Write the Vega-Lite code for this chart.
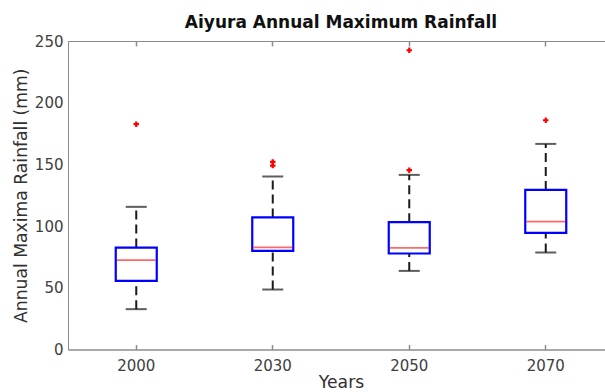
{
  "$schema": "https://vega.github.io/schema/vega-lite/v6.json",
  "width": 546,
  "height": 308.5,
  "autosize": {"type": "none"},
  "padding": {"left": 68, "top": 41, "right": 0, "bottom": 43},
  "title": {
    "text": "Aiyura Annual Maximum Rainfall",
    "font": "DejaVu Sans",
    "fontSize": 17,
    "fontWeight": "bold",
    "color": "#111111",
    "offset": 2
  },
  "config": {
    "view": {"stroke": "#8c8c8c", "strokeWidth": 1},
    "axis": {
      "labelFont": "DejaVu Sans",
      "labelFontSize": 15,
      "labelColor": "#404040",
      "titleFont": "DejaVu Sans",
      "titleFontSize": 17.2,
      "titleFontWeight": "normal",
      "titleColor": "#303030",
      "domainColor": "#8c8c8c",
      "tickColor": "#8c8c8c",
      "tickWidth": 1.5,
      "grid": false
    }
  },
  "datasets": {
    "stats": [
      {"year": "2000", "lower": 32.7, "q1": 55.6, "median": 72.4, "q3": 82.6, "upper": 115.6},
      {"year": "2030", "lower": 48.6, "q1": 79.9, "median": 82.7, "q3": 107.0, "upper": 140.2},
      {"year": "2050", "lower": 63.7, "q1": 77.8, "median": 82.3, "q3": 103.2, "upper": 141.5},
      {"year": "2070", "lower": 78.6, "q1": 94.5, "median": 103.7, "q3": 129.3, "upper": 166.6}
    ],
    "outliers": [
      {"year": "2000", "rainfall": 182.6},
      {"year": "2030", "rainfall": 152.0},
      {"year": "2030", "rainfall": 149.0},
      {"year": "2050", "rainfall": 145.3},
      {"year": "2050", "rainfall": 242.5},
      {"year": "2070", "rainfall": 185.8}
    ]
  },
  "layer": [
    {
      "data": {"name": "stats"},
      "mark": {"type": "rule", "color": "#1a1a1a", "strokeWidth": 2, "strokeDash": [9, 5]},
      "encoding": {
        "x": {
          "field": "year",
          "type": "ordinal",
          "scale": {"domain": ["2000", "2030", "2050", "2070"], "paddingInner": 0, "paddingOuter": 0},
          "axis": {"title": "Years", "labelAngle": 0, "tickSize": -5, "labelPadding": 14, "titlePadding": 0}
        },
        "y": {
          "field": "lower",
          "type": "quantitative",
          "scale": {"domain": [0, 250], "nice": false},
          "axis": {"title": "Annual Maxima Rainfall (mm)", "values": [0, 50, 100, 150, 200, 250], "ticks": false, "labelPadding": 5, "titlePadding": 4}
        },
        "y2": {"field": "q1"}
      }
    },
    {
      "data": {"name": "stats"},
      "mark": {"type": "rule", "color": "#1a1a1a", "strokeWidth": 2, "strokeDash": [9, 5]},
      "encoding": {
        "x": {"field": "year", "type": "ordinal", "axis": null},
        "y": {"field": "q3", "type": "quantitative"},
        "y2": {"field": "upper"}
      }
    },
    {
      "data": {"name": "stats"},
      "mark": {"type": "tick", "color": "#1a1a1a", "size": 21, "thickness": 2},
      "encoding": {
        "x": {"field": "year", "type": "ordinal", "axis": null},
        "y": {"field": "lower", "type": "quantitative"}
      }
    },
    {
      "data": {"name": "stats"},
      "mark": {"type": "tick", "color": "#1a1a1a", "size": 21, "thickness": 2},
      "encoding": {
        "x": {"field": "year", "type": "ordinal", "axis": null},
        "y": {"field": "upper", "type": "quantitative"}
      }
    },
    {
      "data": {"name": "stats"},
      "mark": {"type": "bar", "width": 41, "fill": "#ffffff", "stroke": "#0000ff", "strokeWidth": 2.2},
      "encoding": {
        "x": {"field": "year", "type": "ordinal", "axis": null},
        "y": {"field": "q1", "type": "quantitative"},
        "y2": {"field": "q3"}
      }
    },
    {
      "data": {"name": "stats"},
      "mark": {"type": "tick", "color": "#ff2a2a", "size": 39, "thickness": 1.8},
      "encoding": {
        "x": {"field": "year", "type": "ordinal", "axis": null},
        "y": {"field": "median", "type": "quantitative"}
      }
    },
    {
      "data": {"name": "outliers"},
      "mark": {"type": "point", "shape": "cross", "filled": true, "color": "#ff0000", "size": 30, "opacity": 1},
      "encoding": {
        "x": {
          "field": "year",
          "type": "ordinal",
          "axis": {"orient": "top", "labels": false, "domain": false, "title": null, "tickSize": -5}
        },
        "y": {"field": "rainfall", "type": "quantitative"}
      }
    }
  ],
  "resolve": {"axis": {"x": "independent"}}
}
